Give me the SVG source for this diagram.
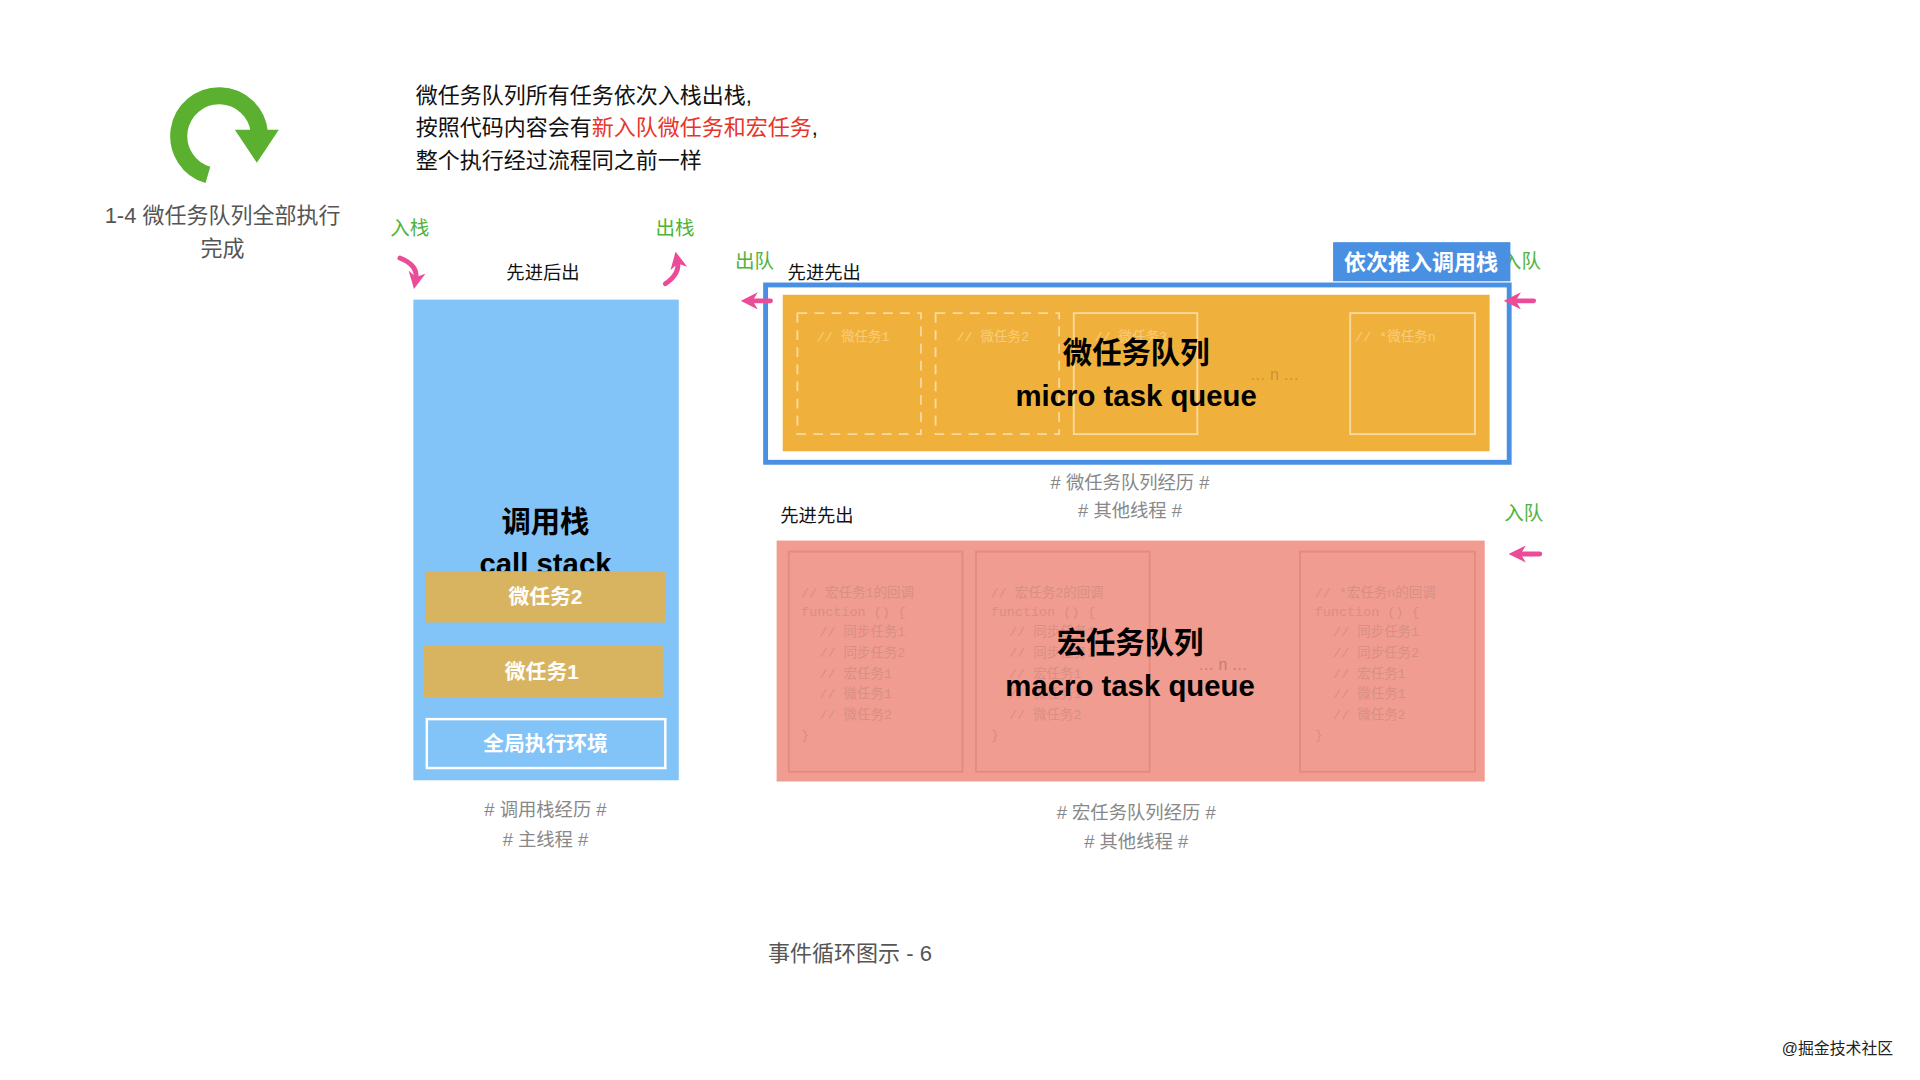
<svg xmlns="http://www.w3.org/2000/svg" width="1920" height="1080" viewBox="0 0 1920 1080">
<defs>
<style>
text{font-family:"Liberation Sans","Noto Sans CJK SC",sans-serif}
.g{fill:#4fb33a;font-size:16px}
.b{fill:#111;font-size:15px}
.h{fill:#888;font-size:15px;text-anchor:middle}
.t{fill:#000;font-size:24px;font-weight:bold;text-anchor:middle}
.w{fill:#fff;font-size:17px;font-weight:bold;text-anchor:middle}
.c{fill:#d88f85;font-size:11px;font-family:"Liberation Mono","Noto Sans CJK SC",monospace}
.m{fill:#f7cd7c;font-size:11px;font-family:"Liberation Mono","Noto Sans CJK SC",monospace}
.pa{fill:none;stroke:#ea4c97;stroke-width:4;stroke-linecap:round}
</style>
<marker id="ah" viewBox="0 0 10 10" refX="4" refY="5" markerWidth="3.5" markerHeight="3.5" orient="auto"><path d="M0,0L10,5L0,10L3,5z" fill="#ea4c97"/></marker>
</defs>
<rect width="1920" height="1080" fill="#fff"/>
<g transform="scale(1.223)">
<g id="title">
<path d="M170,143 A33,33 0 1 1 212,108" fill="none" stroke="#5bb030" stroke-width="14"/>
<path d="M192,106 L228,106 L210,133 z" fill="#5bb030"/>
<text x="182" y="182" font-size="18" fill="#555" text-anchor="middle">1-4 微任务队列全部执行</text>
<text x="182" y="209" font-size="18" fill="#555" text-anchor="middle">完成</text>
</g>
<g id="note" font-size="18" fill="#111">
<text x="340" y="84">微任务队列所有任务依次入栈出栈,</text>
<text x="340" y="110">按照代码内容会有<tspan fill="#e8352a">新入队微任务和宏任务</tspan>,</text>
<text x="340" y="137">整个执行经过流程同之前一样</text>
</g>
<g id="callstack">
<text class="g" x="319" y="192">入栈</text>
<text class="g" x="536" y="192">出栈</text>
<text class="b" x="444" y="228" text-anchor="middle">先进后出</text>
<rect x="338" y="245" width="217" height="393" fill="#82c4f8"/>
<text class="t" x="446" y="435">调用栈</text>
<text class="t" x="446" y="469" font-weight="normal">call stack</text>
<rect x="348" y="467" width="196" height="42" fill="#d9b460"/>
<text class="w" x="446" y="494">微任务2</text>
<rect x="346" y="528" width="196" height="42" fill="#d9b460"/>
<text class="w" x="443" y="555">微任务1</text>
<rect x="349" y="588" width="195" height="40" fill="none" stroke="#fff" stroke-width="2"/>
<text class="w" x="446" y="614">全局执行环境</text>
<text class="h" x="446" y="667"># 调用栈经历 #</text>
<text class="h" x="446" y="692"># 主线程 #</text>
</g>
<g id="micro">
<text class="g" x="1228" y="219">入队</text>
<text class="g" x="601" y="219">出队</text>
<text class="b" x="644" y="228">先进先出</text>
<rect x="626" y="233" width="608" height="145" fill="#fff" stroke="#4a90e2" stroke-width="4"/>
<rect x="640" y="241" width="578" height="128" fill="#f0b13c"/>
<g fill="none" stroke="#f8d9a0" stroke-width="1.5">
<rect x="652" y="256" width="101" height="99" stroke-dasharray="8,6"/>
<rect x="765" y="256" width="101" height="99" stroke-dasharray="8,6"/>
<rect x="878" y="256" width="101" height="99"/>
<rect x="1104" y="256" width="102" height="99"/>
</g>
<text class="m" x="668" y="279">// 微任务1</text>
<text class="m" x="782" y="279">// 微任务2</text>
<text class="m" x="895" y="279">// 微任务3</text>
<text class="m" x="1108" y="279">// *微任务n</text>
<text x="1042" y="311" font-size="13" fill="#c8933a" text-anchor="middle">… n …</text>
<text class="t" x="929" y="297">微任务队列</text>
<text class="t" x="929" y="332" font-weight="normal">micro task queue</text>
<rect x="1090" y="198" width="145" height="32" fill="#4a90e2"/>
<text x="1162" y="221" font-size="18" font-weight="bold" fill="#fff" text-anchor="middle">依次推入调用栈</text>
<text class="h" x="924" y="400"># 微任务队列经历 #</text>
<text class="h" x="924" y="423"># 其他线程 #</text>
</g>
<g id="macro">
<text class="b" x="638" y="427">先进先出</text>
<text class="g" x="1230" y="425">入队</text>
<rect x="635" y="442" width="579" height="197" fill="#f19c90"/>
<g fill="none" stroke="#e58a80" stroke-width="1.5">
<rect x="645" y="451" width="142" height="180"/>
<rect x="798" y="451" width="142" height="180"/>
<rect x="1063" y="451" width="143" height="180"/>
</g>
<g>
<text class="c" x="655" y="488">// 宏任务1的回调</text><text class="c" x="655" y="504">function () {</text><text class="c" x="670" y="520">// 同步任务1</text><text class="c" x="670" y="537">// 同步任务2</text><text class="c" x="670" y="554">// 宏任务1</text><text class="c" x="670" y="571">// 微任务1</text><text class="c" x="670" y="588">// 微任务2</text><text class="c" x="655" y="604">}</text>
<text class="c" x="810" y="488">// 宏任务2的回调</text><text class="c" x="810" y="504">function () {</text><text class="c" x="825" y="520">// 同步任务1</text><text class="c" x="825" y="537">// 同步任务2</text><text class="c" x="825" y="554">// 宏任务1</text><text class="c" x="825" y="571">// 微任务1</text><text class="c" x="825" y="588">// 微任务2</text><text class="c" x="810" y="604">}</text>
<text class="c" x="1075" y="488">// *宏任务n的回调</text><text class="c" x="1075" y="504">function () {</text><text class="c" x="1090" y="520">// 同步任务1</text><text class="c" x="1090" y="537">// 同步任务2</text><text class="c" x="1090" y="554">// 宏任务1</text><text class="c" x="1090" y="571">// 微任务1</text><text class="c" x="1090" y="588">// 微任务2</text><text class="c" x="1075" y="604">}</text>
</g>
<text x="1000" y="548" font-size="13" fill="#c87a70" text-anchor="middle">… n …</text>
<text class="t" x="924" y="534">宏任务队列</text>
<text class="t" x="924" y="569" font-weight="normal">macro task queue</text>
<text class="h" x="929" y="670"># 宏任务队列经历 #</text>
<text class="h" x="929" y="693"># 其他线程 #</text>
</g>
<g id="connectors">
<path class="pa" d="M327,211 Q342,217 340,228" marker-end="url(#ah)"/>
<path class="pa" d="M544,232 Q556,224 554,214" marker-end="url(#ah)"/>
<path class="pa" d="M630,246 L614,246" marker-end="url(#ah)"/>
<path class="pa" d="M1254,246 L1238,246" marker-end="url(#ah)"/>
<path class="pa" d="M1259,453 L1242,453" marker-end="url(#ah)"/>
</g>
<text x="695" y="786" font-size="18" fill="#555" text-anchor="middle">事件循环图示 - 6</text>
<text x="1548" y="862" font-size="13" fill="#222" text-anchor="end">@掘金技术社区</text>
</g>
</svg>
